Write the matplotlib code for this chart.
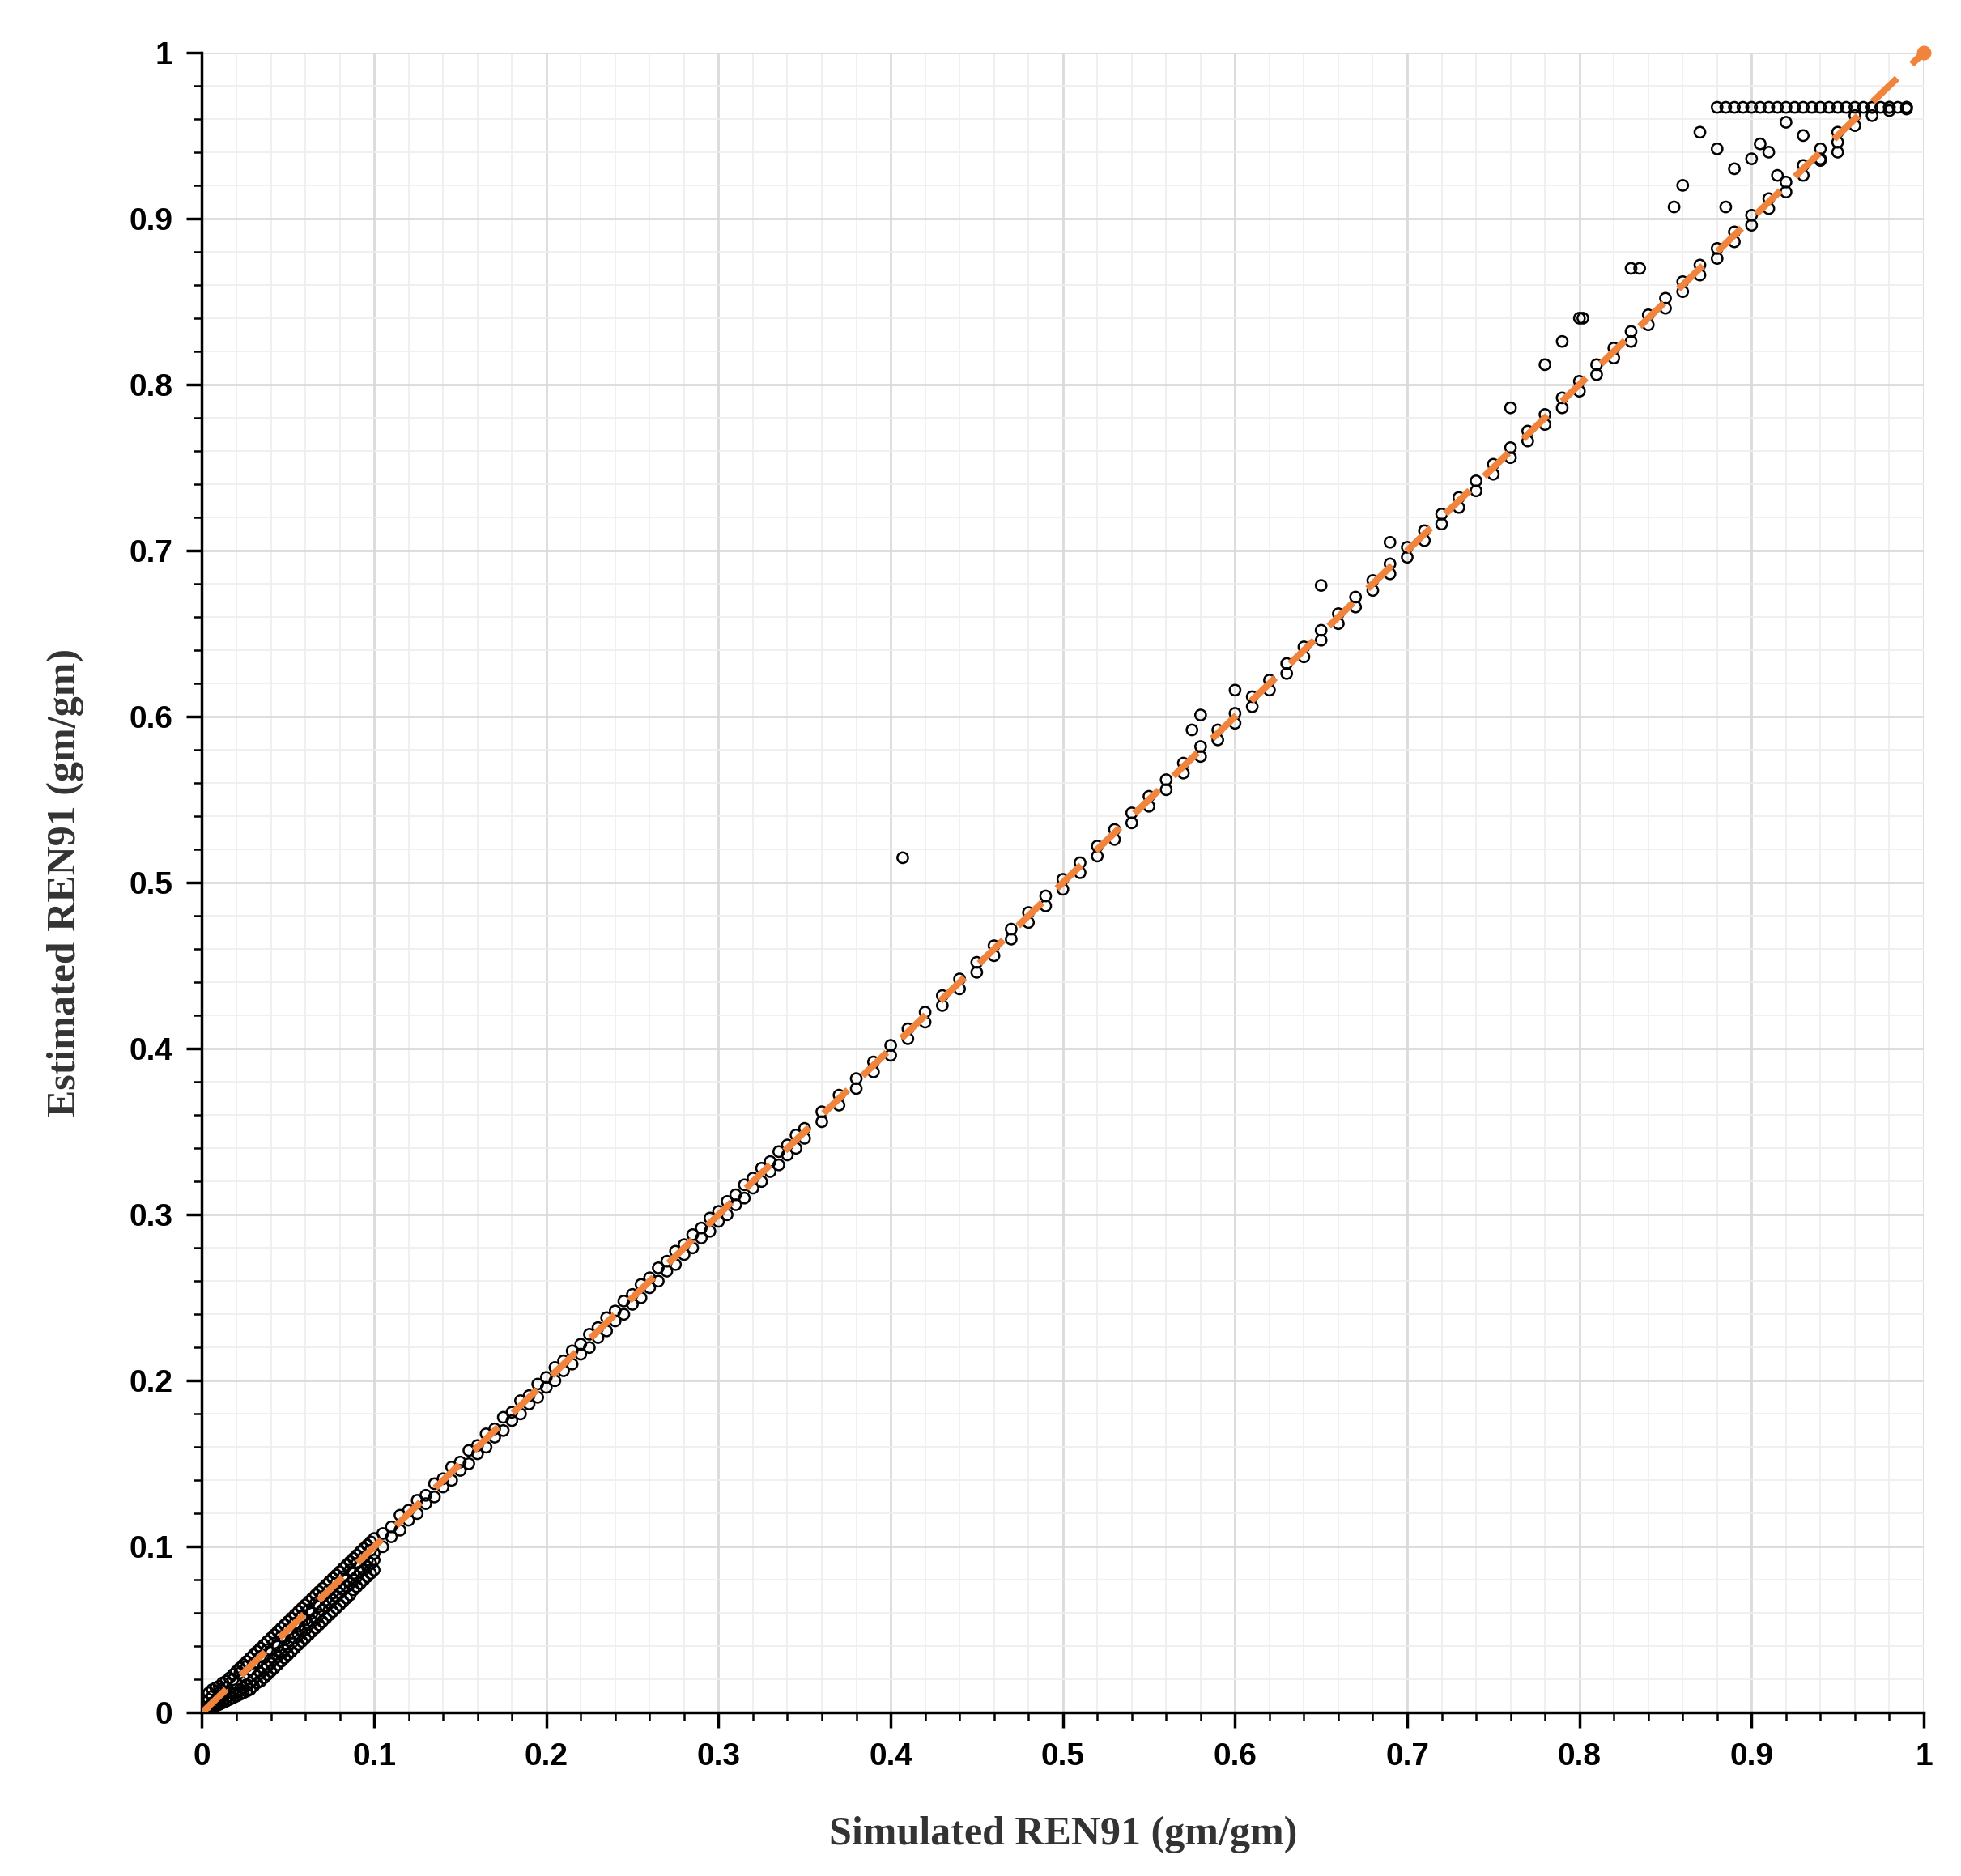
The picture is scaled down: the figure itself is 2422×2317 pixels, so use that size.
import matplotlib.pyplot as plt
from matplotlib.ticker import MultipleLocator

# simulated vs estimated values
sim_low = [0.004, 0.006, 0.008, 0.01, 0.012, 0.014, 0.016, 0.018, 0.02, 0.022, 0.024, 0.026, 0.028, 0.03,
           0.032, 0.034, 0.036, 0.038, 0.04, 0.042, 0.044, 0.046, 0.048, 0.05, 0.052, 0.054, 0.056, 0.058,
           0.06, 0.062, 0.064, 0.066, 0.068, 0.07, 0.072, 0.074, 0.076, 0.078, 0.08, 0.082, 0.084, 0.086,
           0.088, 0.09, 0.092, 0.094, 0.096, 0.098, 0.1]
est_low_a = [0.008, 0.01, 0.006, 0.012, 0.01, 0.015, 0.012, 0.02, 0.018, 0.024, 0.022, 0.028, 0.026, 0.03,
             0.03, 0.034, 0.033, 0.038, 0.036, 0.042, 0.04, 0.046, 0.044, 0.05, 0.048, 0.054, 0.052, 0.058,
             0.056, 0.062, 0.06, 0.066, 0.064, 0.07, 0.068, 0.074, 0.072, 0.078, 0.076, 0.082, 0.08, 0.086,
             0.084, 0.09, 0.088, 0.094, 0.092, 0.098, 0.096]
est_low_b = [0.004, 0.006, 0.005, 0.008, 0.007, 0.009, 0.01, 0.012, 0.012, 0.014, 0.015, 0.017, 0.018, 0.02,
             0.022, 0.024, 0.026, 0.028, 0.03, 0.032, 0.034, 0.036, 0.038, 0.04, 0.042, 0.045, 0.047, 0.049,
             0.05, 0.053, 0.055, 0.057, 0.059, 0.062, 0.064, 0.066, 0.068, 0.07, 0.072, 0.074, 0.076, 0.078,
             0.08, 0.082, 0.085, 0.086, 0.088, 0.09, 0.092]
est_low_c = [0.012, 0.014, 0.015, 0.016, 0.018, 0.019, 0.021, 0.023, 0.025, 0.027, 0.029, 0.031, 0.033, 0.035,
             0.037, 0.039, 0.041, 0.043, 0.045, 0.047, 0.049, 0.051, 0.053, 0.055, 0.057, 0.059, 0.061, 0.063,
             0.065, 0.067, 0.069, 0.071, 0.073, 0.075, 0.077, 0.079, 0.081, 0.083, 0.085, 0.087, 0.089, 0.091,
             0.093, 0.095, 0.097, 0.099, 0.101, 0.103, 0.105]
est_low_d = [0.002, 0.003, 0.004, 0.005, 0.006, 0.007, 0.008, 0.009, 0.01, 0.011, 0.012, 0.013, 0.014, 0.016,
             0.018, 0.019, 0.021, 0.023, 0.025, 0.027, 0.029, 0.031, 0.033, 0.035, 0.037, 0.039, 0.041, 0.043,
             0.045, 0.047, 0.049, 0.051, 0.053, 0.055, 0.057, 0.059, 0.061, 0.063, 0.065, 0.067, 0.069, 0.071,
             0.074, 0.076, 0.078, 0.08, 0.082, 0.084, 0.086]

sim_mid = [0.105, 0.11, 0.115, 0.12, 0.125, 0.13, 0.135, 0.14, 0.145, 0.15, 0.155, 0.16, 0.165, 0.17, 0.175,
           0.18, 0.185, 0.19, 0.195, 0.2, 0.205, 0.21, 0.215, 0.22, 0.225, 0.23, 0.235, 0.24, 0.245, 0.25,
           0.255, 0.26, 0.265, 0.27, 0.275, 0.28, 0.285, 0.29, 0.295, 0.3, 0.305, 0.31, 0.315, 0.32, 0.325,
           0.33, 0.335, 0.34, 0.345, 0.35, 0.36, 0.37, 0.38, 0.39, 0.4, 0.41, 0.42, 0.43, 0.44, 0.45, 0.46,
           0.47, 0.48, 0.49, 0.5, 0.51, 0.52, 0.53, 0.54, 0.55, 0.56, 0.57, 0.58, 0.59, 0.6, 0.61, 0.62, 0.63,
           0.64, 0.65, 0.66, 0.67, 0.68, 0.69, 0.7, 0.71, 0.72, 0.73, 0.74, 0.75, 0.76, 0.77, 0.78, 0.79, 0.8,
           0.81, 0.82, 0.83, 0.84, 0.85, 0.86, 0.87, 0.88, 0.89, 0.9, 0.91, 0.92, 0.93, 0.94, 0.95, 0.96, 0.97,
           0.98, 0.99]
est_mid_a = [0.108, 0.112, 0.119, 0.122, 0.128, 0.131, 0.138, 0.141, 0.148, 0.151, 0.158, 0.161, 0.168, 0.171,
             0.178, 0.181, 0.188, 0.191, 0.198, 0.202, 0.208, 0.212, 0.218, 0.222, 0.228, 0.232, 0.238, 0.242,
             0.248, 0.252, 0.258, 0.262, 0.268, 0.272, 0.278, 0.282, 0.288, 0.292, 0.298, 0.302, 0.308, 0.312,
             0.318, 0.322, 0.328, 0.332, 0.338, 0.342, 0.348, 0.352, 0.362, 0.372, 0.382, 0.392, 0.402, 0.412,
             0.422, 0.432, 0.442, 0.452, 0.462, 0.472, 0.482, 0.492, 0.502, 0.512, 0.522, 0.532, 0.542, 0.552,
             0.562, 0.572, 0.582, 0.592, 0.602, 0.612, 0.622, 0.632, 0.642, 0.652, 0.662, 0.672, 0.682, 0.692,
             0.702, 0.712, 0.722, 0.732, 0.742, 0.752, 0.762, 0.772, 0.782, 0.792, 0.802, 0.812, 0.822, 0.832,
             0.842, 0.852, 0.862, 0.872, 0.882, 0.892, 0.902, 0.912, 0.922, 0.932, 0.942, 0.952, 0.962, 0.967,
             0.967, 0.967]
est_mid_b = [0.1, 0.106, 0.11, 0.116, 0.12, 0.126, 0.13, 0.136, 0.14, 0.146, 0.15, 0.156, 0.16, 0.166, 0.17,
             0.176, 0.18, 0.186, 0.19, 0.196, 0.2, 0.206, 0.21, 0.216, 0.22, 0.226, 0.23, 0.236, 0.24, 0.246,
             0.25, 0.256, 0.26, 0.266, 0.27, 0.276, 0.28, 0.286, 0.29, 0.296, 0.3, 0.306, 0.31, 0.316, 0.32,
             0.326, 0.33, 0.336, 0.34, 0.346, 0.356, 0.366, 0.376, 0.386, 0.396, 0.406, 0.416, 0.426, 0.436,
             0.446, 0.456, 0.466, 0.476, 0.486, 0.496, 0.506, 0.516, 0.526, 0.536, 0.546, 0.556, 0.566, 0.576,
             0.586, 0.596, 0.606, 0.616, 0.626, 0.636, 0.646, 0.656, 0.666, 0.676, 0.686, 0.696, 0.706, 0.716,
             0.726, 0.736, 0.746, 0.756, 0.766, 0.776, 0.786, 0.796, 0.806, 0.816, 0.826, 0.836, 0.846, 0.856,
             0.866, 0.876, 0.886, 0.896, 0.906, 0.916, 0.926, 0.936, 0.946, 0.956, 0.962, 0.965, 0.966]

sim_out = [0.407, 0.575, 0.58, 0.6, 0.65, 0.69, 0.76, 0.78, 0.79, 0.8, 0.802, 0.83, 0.835, 0.855, 0.86,
           0.87, 0.88, 0.885, 0.89, 0.9, 0.905, 0.91, 0.915, 0.92, 0.93, 0.94, 0.95]
est_out = [0.515, 0.592, 0.601, 0.616, 0.679, 0.705, 0.786, 0.812, 0.826, 0.84, 0.84, 0.87, 0.87, 0.907, 0.92,
           0.952, 0.942, 0.907, 0.93, 0.936, 0.945, 0.94, 0.926, 0.958, 0.95, 0.935, 0.94]

sim_cap = [0.88, 0.885, 0.89, 0.895, 0.9, 0.905, 0.91, 0.915, 0.92, 0.925, 0.93, 0.935, 0.94, 0.945, 0.95,
           0.955, 0.96, 0.965, 0.97, 0.975, 0.98, 0.985, 0.99]
est_cap = [0.967] * len(sim_cap)

tick_vals = [0, 0.1, 0.2, 0.3, 0.4, 0.5, 0.6, 0.7, 0.8, 0.9, 1]
tick_labels = ['0', '0.1', '0.2', '0.3', '0.4', '0.5', '0.6', '0.7', '0.8', '0.9', '1']

xs = sim_low * 4 + sim_mid * 2 + sim_out + sim_cap
ys = est_low_a + est_low_b + est_low_c + est_low_d + est_mid_a + est_mid_b + est_out + est_cap

fig = plt.figure(figsize=(24.22, 23.17), dpi=100)
ax = fig.add_axes([0.103, 0.087, 0.878, 0.885])

ax.scatter(xs, ys, s=90, facecolors='none', edgecolors='black', linewidths=1.8, zorder=3)
ax.plot([0, 1], [0, 1], color='#F0843C', linestyle=(0, (5, 3)), linewidth=6, zorder=4)
ax.plot([1], [1], 'o', color='#F0843C', markersize=12, zorder=4, clip_on=False)

ax.set_xlim(0, 1)
ax.set_ylim(0, 1)
ax.set_xticks(tick_vals)
ax.set_yticks(tick_vals)
ax.set_xticklabels(tick_labels)
ax.set_yticklabels(tick_labels)
ax.xaxis.set_minor_locator(MultipleLocator(0.02))
ax.yaxis.set_minor_locator(MultipleLocator(0.02))
ax.grid(which='major', color='#DADADA', linewidth=2)
ax.grid(which='minor', color='#EEEEEE', linewidth=1.2)
ax.set_axisbelow(True)
for side in ['top', 'right']:
    ax.spines[side].set_visible(False)
for side in ['left', 'bottom']:
    ax.spines[side].set_linewidth(2.5)
ax.tick_params(which='major', direction='out', length=14, width=2.5, labelsize=28, pad=12)
ax.tick_params(which='minor', direction='out', length=7, width=1.8)
for lab in ax.get_xticklabels() + ax.get_yticklabels():
    lab.set_fontfamily('Liberation Sans')
    lab.set_fontweight('bold')

ax.set_xlabel('Simulated REN91 (gm/gm)', fontsize=36, fontfamily='Liberation Serif',
              fontweight='bold', color='#333333', labelpad=40)
ax.set_ylabel('Estimated REN91 (gm/gm)', fontsize=36, fontfamily='Liberation Serif',
              fontweight='bold', color='#333333', labelpad=40)

fig.savefig('out.png', dpi=100)
